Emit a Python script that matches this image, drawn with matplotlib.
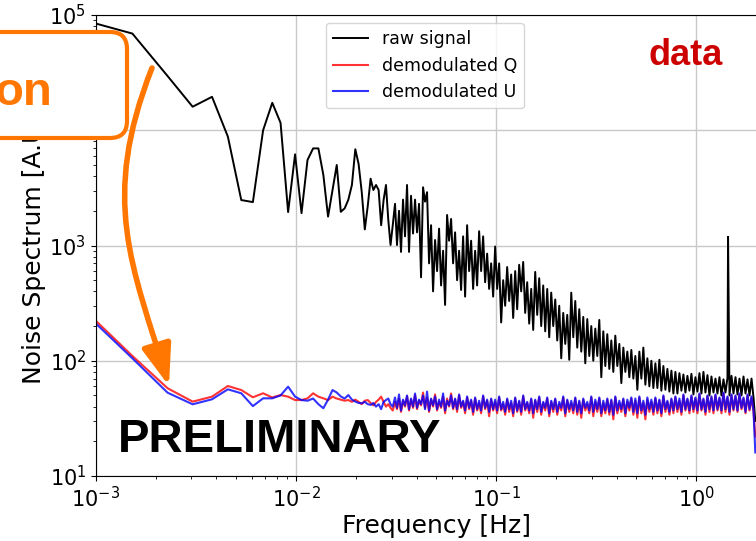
import numpy as np
import matplotlib.pyplot as plt
from matplotlib.patches import FancyBboxPatch, FancyArrowPatch
from matplotlib.path import Path

DF = 7.6e-4  # periodogram bin width [Hz]

# first 40 bins, resolved point by point
raw_low = [96000, 69000, 29500, 16000, 19500, 8800, 2480, 2380, 10000, 17300,
           11600, 1950, 6180, 1910, 5520, 6960, 6960, 4090, 1780, 3020,
           5000, 1960, 2100, 2500, 3350, 6840, 5100, 2900, 1380, 2200,
           3800, 3030, 3350, 3030, 1500, 2480, 3350, 1660, 1010, 1500]
q_low = [350, 110, 57.7, 44.2, 48.8, 60.4, 55.7, 48.2, 52.2, 48.0,
         50.4, 48.8, 45.6, 45.6, 47.2, 52.2, 48.8, 47.2, 45.6, 48.8,
         47.0, 46.0, 45.0, 45.6, 44.0, 46.0, 44.0, 42.0, 45.0, 45.6,
         43.0, 41.0, 44.0, 46.0, 48.8, 44.0, 40.0, 42.0, 39.0, 37.0]
u_low = [330, 105, 52.8, 41.9, 46.3, 56.5, 52.2, 40.4, 47.2, 47.2,
         50.0, 59.6, 48.8, 45.6, 45.0, 47.0, 42.0, 38.7, 46.0, 55.7,
         53.0, 49.0, 47.0, 50.4, 46.0, 44.2, 43.0, 42.8, 44.0, 42.0,
         41.4, 43.0, 40.0, 42.0, 38.0, 44.0, 45.6, 47.0, 42.0, 40.0]

# dense part above ~0.03 Hz (log-spaced samples)
F_HIGH_MIN, F_HIGH_MAX = 0.0312, 1.93
raw_high = [2300, 1010, 2000, 880, 2500, 1200, 3350, 880, 2700, 1270,
            2500, 1300, 2300, 530, 3200, 2400, 2900, 700, 1500, 400,
            1116, 600, 1400, 450, 900, 305, 1840, 1100, 1700, 700,
            1300, 500, 900, 411, 1200, 360, 1500, 600, 1100, 420,
            900, 450, 1330, 600, 1200, 480, 850, 420, 700, 360,
            980, 420, 700, 215, 500, 300, 650, 330, 560, 235,
            600, 280, 680, 400, 720, 260, 480, 210, 420, 185,
            590, 250, 520, 200, 450, 180, 420, 160, 390, 200,
            340, 150, 300, 105, 260, 140, 250, 102, 390, 160,
            330, 130, 280, 120, 240, 95, 230, 110, 200, 100,
            190, 110, 226, 72, 180, 90, 170, 85, 150, 80,
            165, 90, 140, 64, 130, 80, 120, 72, 124, 70,
            110, 56, 120, 70, 130, 62, 105, 60, 100, 58,
            95, 58, 102, 55, 90, 56, 85, 54, 82, 52,
            80, 52, 78, 55, 76, 53, 74, 55, 77, 51,
            72, 54, 78, 52, 80, 53, 75, 50, 73, 53,
            70, 52, 72, 50, 69, 53, 71, 50, 74, 52,
            72, 51, 70, 50, 73, 52, 69, 50, 70, 48]
q_high = [44, 38, 47, 36, 45, 40, 49, 37, 46, 39,
          50, 38, 45, 41, 53, 39, 48, 36, 46, 40,
          51, 37, 44, 39, 49, 35, 47, 40, 52, 38,
          46, 36, 50, 39, 44, 35, 48, 38, 45, 34,
          47, 37, 43, 35, 49, 38, 45, 33, 46, 37,
          44, 35, 48, 37, 42, 34, 46, 36, 43, 33,
          47, 36, 44, 34, 49, 37, 43, 35, 46, 32,
          45, 36, 48, 34, 43, 37, 47, 33, 44, 36,
          46, 34, 42, 37, 48, 33, 45, 36, 43, 35,
          47, 34, 44, 32, 46, 37, 42, 35, 48, 33,
          44, 36, 47, 33, 43, 35, 46, 34, 45, 31,
          48, 35, 43, 36, 46, 33, 44, 37, 47, 34,
          45, 32, 48, 35, 43, 31, 46, 36, 44, 34,
          47, 35, 45, 33, 49, 36, 44, 34, 46, 35,
          48, 36, 45, 34, 50, 37, 46, 35, 49, 36,
          47, 35, 51, 37, 46, 34, 49, 36, 48, 35,
          50, 37, 47, 35, 52, 36, 48, 34, 50, 37,
          49, 36, 51, 38, 47, 35, 50, 37, 48, 36]
u_high = [48, 39, 51, 37, 46, 41, 50, 38, 47, 40,
          52, 39, 46, 42, 50, 38, 54, 37, 47, 41,
          49, 38, 46, 40, 52, 37, 45, 41, 50, 39,
          47, 38, 51, 40, 45, 37, 49, 39, 46, 36,
          48, 38, 45, 37, 50, 39, 46, 36, 47, 38,
          46, 37, 49, 38, 44, 36, 47, 38, 45, 35,
          48, 37, 45, 36, 50, 38, 44, 37, 47, 35,
          46, 38, 49, 36, 44, 39, 48, 35, 45, 38,
          47, 36, 44, 39, 49, 35, 46, 38, 45, 37,
          48, 36, 45, 35, 47, 39, 44, 37, 49, 36,
          46, 38, 48, 35, 45, 37, 47, 36, 46, 34,
          49, 37, 45, 38, 47, 35, 46, 39, 48, 36,
          47, 35, 49, 37, 45, 34, 48, 38, 46, 36,
          48, 37, 46, 35, 50, 38, 45, 36, 47, 37,
          49, 38, 47, 36, 51, 38, 47, 37, 50, 38,
          48, 37, 52, 38, 47, 36, 50, 38, 49, 37,
          51, 38, 48, 37, 53, 38, 49, 36, 51, 38,
          50, 37, 52, 39, 48, 36, 51, 38, 49, 37]

# last (Nyquist) bin
f_last = 1.97
raw_last, q_last, u_last = 30, 22, 16
# narrow line in the raw data
f_line, raw_line = 1.44, 1190

ORANGE = '#ff7700'

freq = np.concatenate([DF * np.arange(1, len(raw_low) + 1),
                       np.geomspace(F_HIGH_MIN, F_HIGH_MAX, len(raw_high)),
                       [f_last]])
raw = np.concatenate([raw_low, raw_high, [raw_last]])
q = np.concatenate([q_low, q_high, [q_last]])
u = np.concatenate([u_low, u_high, [u_last]])

i = np.searchsorted(freq, f_line)
freq_raw = np.insert(freq, i, f_line)
raw = np.insert(raw, i, raw_line)

plt.rcParams['font.family'] = 'DejaVu Sans'
fig = plt.figure(figsize=(7.56, 5.41), dpi=100)
ax = fig.add_axes([96 / 756, 65 / 541, 680 / 756, 461 / 541])

ax.loglog(freq_raw, raw, color='black', lw=1.4, label='raw signal')
ax.loglog(freq, q, color='red', lw=1.5, alpha=0.8, label='demodulated Q')
ax.loglog(freq, u, color='blue', lw=1.5, alpha=0.8, label='demodulated U')

ax.set_xlim(1e-3, 2.5)
ax.set_ylim(10, 1e5)
ax.grid(True, which='major', color='#c8c8c8', lw=1)
ax.tick_params(labelsize=15)
ax.set_xlabel('Frequency [Hz]', fontsize=18, labelpad=2)
ax.set_ylabel('Noise Spectrum [A.U.]', fontsize=18, labelpad=2)

ax.legend(loc='upper left', bbox_to_anchor=(326 / 756, 1 - 23 / 541),
          bbox_transform=fig.transFigure, borderaxespad=0, fontsize=12.5)

# slide annotations, drawn in pixel coordinates on top of the plot
ov = fig.add_axes([0, 0, 1, 1])
ov.set_xlim(0, 756)
ov.set_ylim(541, 0)
ov.axis('off')

box = FancyBboxPatch((-40, 32), 167, 106, boxstyle='round,pad=0,rounding_size=17',
                     fc='white', ec=ORANGE, lw=3)
ov.add_patch(box)
ov.text(52, 105, 'on', color=ORANGE, fontsize=34, fontweight='bold',
        family='Liberation Sans', ha='right', va='baseline')

arrow_path = Path([(152, 68), (100, 200), (132, 265), (169, 386)],
                  [Path.MOVETO, Path.CURVE4, Path.CURVE4, Path.CURVE4])
arrow = FancyArrowPatch(path=arrow_path, arrowstyle='-|>,head_length=2.5,head_width=0.9',
                        mutation_scale=10, color=ORANGE, lw=4, shrinkA=0, shrinkB=0)
ov.add_patch(arrow)

ov.text(648, 65, 'data', color='#cc0000', fontsize=26, fontweight='bold',
        family='Liberation Sans', va='baseline')
ov.text(118, 452, 'PRELIMINARY', color='black', fontsize=34, fontweight='bold',
        family='Liberation Sans', va='baseline')

fig.savefig('out.png', dpi=100)
